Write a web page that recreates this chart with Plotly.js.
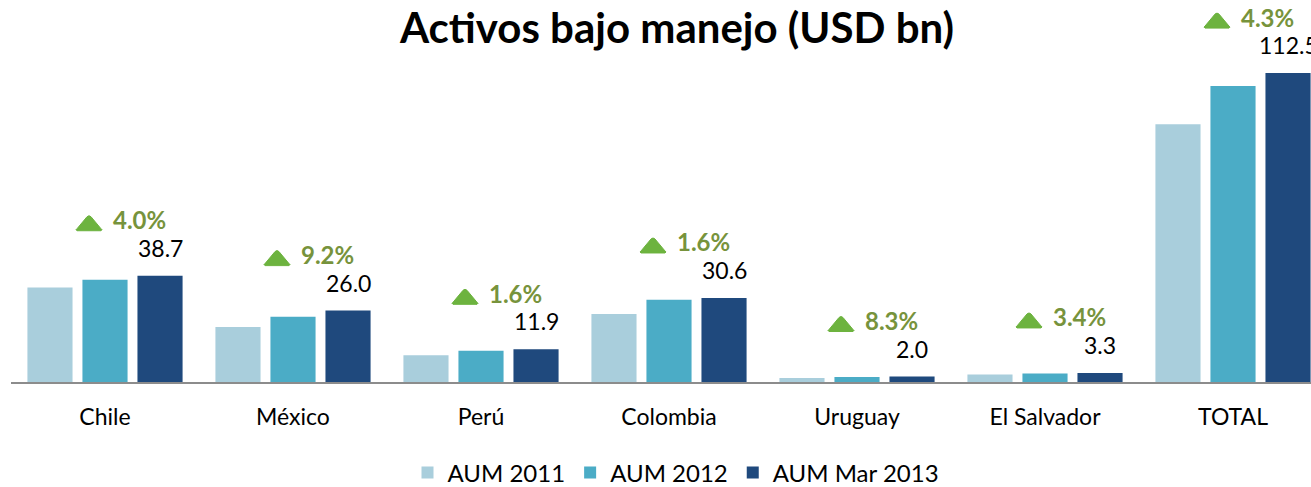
<!DOCTYPE html>
<html>
<head>
<meta charset="utf-8">
<script src="https://cdn.plot.ly/plotly-3.0.1.min.js"></script>
<style>
  html, body { margin: 0; padding: 0; overflow: hidden; background: #fff; }
  #graph { width: 1327px; height: 487px; }
</style>
</head>
<body>
<div id="graph"></div>
<script>
const categories = ['Chile', 'México', 'Perú', 'Colombia', 'Uruguay', 'El Salvador', 'TOTAL'];
const aum2011 = [34.4, 20.0, 9.7, 24.8, 1.5, 2.7, 93.9];
const aum2012 = [37.2, 23.8, 11.4, 30.0, 1.8, 3.1, 107.8];
const aumMar2013 = [38.7, 26.0, 11.9, 30.6, 2.0, 3.3, 112.5];
const growth = ['4.0%', '9.2%', '1.6%', '1.6%', '8.3%', '3.4%', '4.3%'];

const FONT = 'Lato, "Open Sans", sans-serif';
const barOffset = 55; // px from category centre to the 2013 bar

const traces = [
  { x: categories, y: aum2011, type: 'bar', name: 'AUM 2011', marker: { color: '#A9CEDC' } },
  { x: categories, y: aum2012, type: 'bar', name: 'AUM 2012', marker: { color: '#4BACC6' } },
  { x: categories, y: aumMar2013, type: 'bar', name: 'AUM Mar 2013', marker: { color: '#1F497D' } }
];

const annotations = [];
const shapes = [];
categories.forEach(function (c, i) {
  annotations.push({
    x: c, y: aumMar2013[i], xref: 'x', yref: 'y',
    text: aumMar2013[i].toFixed(1), showarrow: false,
    xshift: barOffset, yshift: 28, yanchor: 'middle',
    font: { family: FONT, size: 23, color: '#000' }
  });
  annotations.push({
    x: c, y: aumMar2013[i], xref: 'x', yref: 'y',
    text: '<b>' + growth[i] + '</b>', showarrow: false,
    xshift: barOffset - 21, yshift: 56, yanchor: 'middle',
    font: { family: FONT, size: 24, color: '#77933C' }
  });
  // green "up" marker, drawn in pixels relative to the 2013 bar top (y up)
  shapes.push({
    type: 'path', xref: 'x', yref: 'y',
    xsizemode: 'pixel', ysizemode: 'pixel',
    xanchor: c, yanchor: aumMar2013[i],
    path: 'M -28,45 Q -30,46 -28,47 L -18,59 Q -16,61 -14,59 L -4,47 Q -2,46 -4,45 Z',
    fillcolor: '#6DB33F', line: { color: '#6DB33F', width: 1 }
  });
});

Plotly.newPlot('graph', traces, {
  width: 1327,
  height: 487,
  margin: { l: 11, r: 0, t: 5, b: 105 },
  paper_bgcolor: '#fff',
  plot_bgcolor: '#fff',
  title: {
    text: '<b>Activos bajo manejo (USD bn)</b>',
    xref: 'container', x: 677 / 1327, xanchor: 'center',
    yref: 'container', y: 1 - 28 / 487, yanchor: 'middle',
    font: { family: FONT, size: 42, color: '#000' }
  },
  barmode: 'group',
  bargap: 0.122,
  bargroupgap: 0.18,
  xaxis: {
    type: 'category',
    showline: true, linecolor: '#8C8C8C', linewidth: 2,
    ticks: '', ticklabelstandoff: 13,
    tickfont: { family: FONT, size: 23, color: '#000' }
  },
  yaxis: {
    range: [0, 137.3], visible: false, showgrid: false, zeroline: false
  },
  showlegend: true,
  legend: {
    orientation: 'h',
    xref: 'container', x: 676 / 1327, xanchor: 'center',
    yref: 'container', y: (487 - 473) / 487, yanchor: 'middle',
    font: { family: FONT, size: 24, color: '#000' },
    itemwidth: 30
  },
  shapes: shapes,
  annotations: annotations
}, { displayModeBar: false, staticPlot: true });
</script>
</body>
</html>
